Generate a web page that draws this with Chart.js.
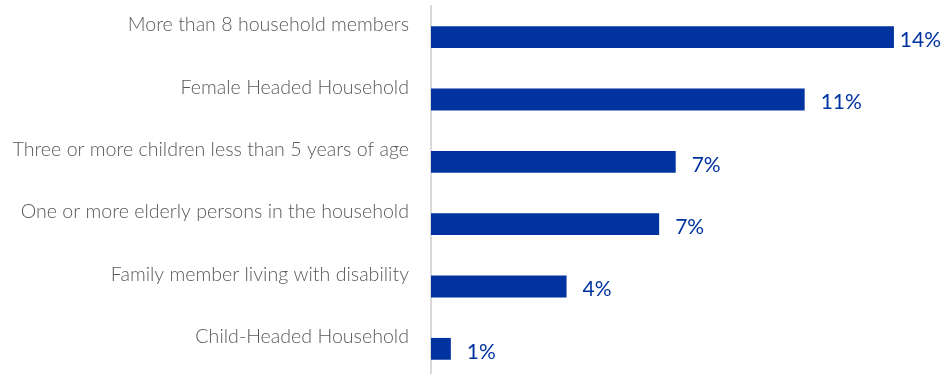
<!DOCTYPE html>
<html>
<head>
<meta charset="utf-8">
<script src="https://cdn.jsdelivr.net/npm/chart.js@4"></script>
<style>
	html, body { margin: 0; padding: 0; background: #fff; overflow: hidden; }
	#wrap { width: 942px; height: 386px; }
</style>
</head>
<body>
<div id="wrap"><canvas id="vulnChart" width="942" height="386"></canvas></div>
<script>
// Household vulnerability categories, top to bottom
const categories = [
	"More than 8 household members",
	"Female Headed Household",
	"Three or more children less than 5 years of age",
	"One or more elderly persons in the household",
	"Family member living with disability",
	"Child-Headed Household"
];
// Share of households (%)
const shares = [14.0, 11.3, 7.4, 6.9, 4.1, 0.6];

const barColor = "#0033a0";
const labelColor = "#595959";

// Percent labels drawn just past the end of each bar
const valueLabels = {
	id: "valueLabels",
	afterDatasetsDraw(chart) {
		const ctx = chart.ctx;
		const meta = chart.getDatasetMeta(0);
		ctx.save();
		ctx.font = "21px Lato, sans-serif";
		ctx.fillStyle = barColor;
		ctx.textBaseline = "middle";
		ctx.textAlign = "left";
		meta.data.forEach((bar, i) => {
			const text = Math.round(shares[i]) + "%";
			const w = ctx.measureText(text).width;
			const x = Math.min(bar.x + 16, chart.width - w - 1);
			ctx.fillText(text, x, bar.y + 3);
		});
		ctx.restore();
	}
};

const ctx = document.getElementById("vulnChart").getContext("2d");
new Chart(ctx, {
	type: "bar",
	data: {
		labels: categories,
		datasets: [{
			data: shares,
			backgroundColor: barColor,
			borderWidth: 0,
			barPercentage: 0.35,
			categoryPercentage: 1
		}]
	},
	options: {
		indexAxis: "y",
		responsive: false,
		animation: false,
		layout: {
			padding: { top: 6, bottom: 6, left: 0, right: 15 }
		},
		plugins: {
			legend: { display: false },
			tooltip: { enabled: false }
		},
		scales: {
			x: {
				min: 0,
				max: 15,
				display: false
			},
			y: {
				grid: { display: false, drawTicks: false },
				border: { display: true, color: "#d9d9d9", width: 2 },
				ticks: {
					color: labelColor,
					font: { family: "Lato, sans-serif", size: 19.6, weight: 300 },
					padding: 22,
					labelOffset: -12
				},
				afterFit(scale) {
					scale.width = 431;
					// tick padding would otherwise eat space above and below the bars
					scale.paddingTop = 0;
					scale.paddingBottom = 0;
				}
			}
		}
	},
	plugins: [valueLabels]
});
</script>
</body>
</html>
